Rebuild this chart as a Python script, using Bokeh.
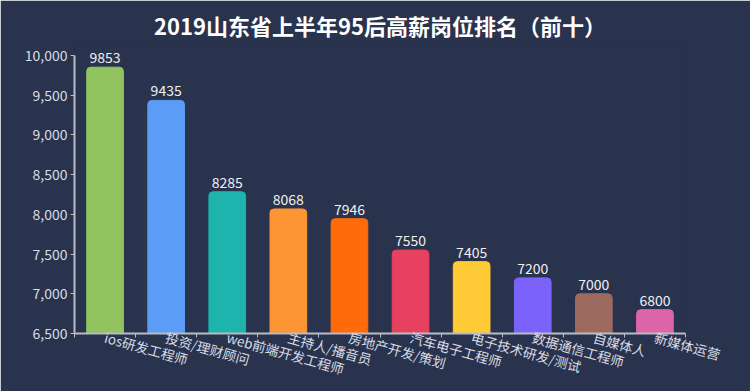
from bokeh.plotting import figure
from bokeh.models import ColumnDataSource, Range1d, FixedTicker, NumeralTickFormatter
from bokeh.core.properties import value
from bokeh.embed import file_html
from bokeh.resources import INLINE

categories = ["ios研发工程师", "投资/理财顾问", "web前端开发工程师", "主持人/播音员",
              "房地产开发/策划", "汽车电子工程师", "电子技术研发/测试", "数据通信工程师",
              "自媒体人", "新媒体运营"]
salaries = [9853, 9435, 8285, 8068, 7946, 7550, 7405, 7200, 7000, 6800]
bar_colors = ["#91c45f", "#5a9cf6", "#1db4ae", "#fe9535", "#ff6a0a",
              "#e8405f", "#fecb36", "#7b62fb", "#9c6a5e", "#de65a8"]
y_ticks = [6500, 7000, 7500, 8000, 8500, 9000, 9500, 10000]
title_text = "2019山东省上半年95后高薪岗位排名（前十）"

BG = "#29334d"
FONT = "Noto Sans CJK SC"

# frame layout (pixels): axis span ~277 px, extra headroom above the top tick
AXIS_PX = 277
HEAD_PX = 10
y_lo, y_hi = y_ticks[0], y_ticks[-1]
y_end = y_hi + HEAD_PX * (y_hi - y_lo) / AXIS_PX

xs = [i + 0.5 for i in range(len(categories))]
src = ColumnDataSource(dict(x=xs, v=salaries, c=bar_colors, lab=[str(s) for s in salaries]))

p = figure(width=750, height=391, output_backend="svg", toolbar_location=None,
           x_range=Range1d(0, len(categories)), y_range=Range1d(y_lo, y_end),
           title=title_text, min_border_left=74, min_border_right=65,
           min_border_bottom=57, min_border_top=45)
p.background_fill_color = BG
p.border_fill_color = BG
p.outline_line_color = BG
p.outline_line_width = 2
p.grid.visible = False

p.title.text_color = "#ffffff"
p.title.text_font = FONT
p.title.text_font_size = "22px"
p.title.text_font_style = "bold"
p.title.align = "center"
p.title.standoff = 9

p.vbar(x="x", top="v", bottom=y_lo, width=0.6, color="c", source=src,
       border_radius=(4, 4, 0, 0))
p.text(x="x", y="v", text="lab", source=src, y_offset=-4, text_align="center",
       text_baseline="bottom", text_color="#f0f0f0", text_font_size="14px",
       text_font=value(FONT))

ax = p.xaxis[0]
ax.ticker = FixedTicker(ticks=xs, minor_ticks=list(range(len(categories) + 1)))
ax.major_label_overrides = {x: c for x, c in zip(xs, categories)}
ax.major_tick_out = 0
ax.major_tick_in = 0
ax.minor_tick_out = 4
ax.minor_tick_in = 0
ax.minor_tick_line_color = "#b8bcc6"
ax.axis_line_color = "#b8bcc6"
ax.axis_line_width = 2
ax.major_label_orientation = -0.27
ax.major_label_text_color = "#d8dce4"
ax.major_label_text_font = FONT
ax.major_label_text_font_size = "13.5px"
ax.major_label_standoff = -1

ay = p.yaxis[0]
ay.ticker = FixedTicker(ticks=y_ticks)
ay.bounds = (y_lo, y_hi)
ay.formatter = NumeralTickFormatter(format="0,0")
ay.minor_tick_line_color = None
ay.major_tick_out = 4
ay.major_tick_in = 0
ay.major_tick_line_color = "#b8bcc6"
ay.axis_line_color = "#b8bcc6"
ay.axis_line_width = 2
ay.major_label_text_color = "#d8dce4"
ay.major_label_text_font = FONT
ay.major_label_text_font_size = "14px"
ay.major_label_standoff = 3

open("out.html", "w").write(file_html(p, INLINE))
